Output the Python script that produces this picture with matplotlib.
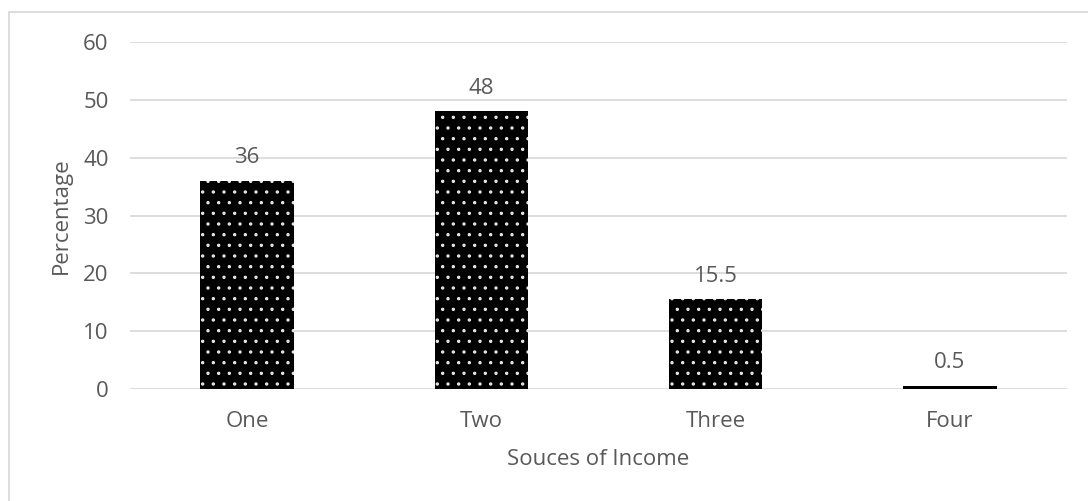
import numpy as np
import matplotlib
matplotlib.use('Agg')
import matplotlib.pyplot as plt
from matplotlib.patches import Rectangle

# Data for the chart
sources = ['One', 'Two', 'Three', 'Four']
percentages = [36, 48, 15.5, 0.5]
y_ticks = [0, 10, 20, 30, 40, 50, 60]

text_grey = '#595959'
line_grey = '#d9d9d9'
font_size = 12.5

plt.rcParams['font.family'] = ['Open Sans', 'DejaVu Sans']
plt.rcParams['hatch.linewidth'] = 0.7

# 1088 x 501 pixels, dpi picked so the dotted hatch comes out at the right spacing
fig = plt.figure(figsize=(8.5, 501 / 128), dpi=128)
ax = fig.add_axes([130 / 1088, 1 - 389 / 501, 937 / 1088, 347 / 501])

x = np.arange(len(sources))
bars = ax.bar(x, percentages, width=0.4, color='black', edgecolor='#e6e6e6',
              hatch='..', linewidth=0, zorder=3)

# value labels above each bar
for xi, val in zip(x, percentages):
    ax.annotate(f'{val:g}', (xi, val), xytext=(0, 10), textcoords='offset points',
                ha='center', va='baseline', fontsize=font_size, color=text_grey)

ax.set_xlim(-0.5, len(sources) - 0.5)
ax.set_ylim(0, 60)
ax.set_yticks(y_ticks)
ax.set_xticks(x)
ax.set_xticklabels(sources)
ax.tick_params(axis='both', length=0, labelsize=font_size, labelcolor=text_grey)
ax.tick_params(axis='y', pad=12)
ax.tick_params(axis='x', pad=12.5)

ax.grid(axis='y', color=line_grey, linewidth=1.0, zorder=0)
ax.set_axisbelow(True)
for spine in ax.spines.values():
    spine.set_visible(False)

ax.set_ylabel('Percentage', fontsize=font_size, color=text_grey)
ax.yaxis.set_label_coords((72 - 130) / 937, 0.5)
ax.set_xlabel('Souces of Income', fontsize=font_size, color=text_grey)
ax.xaxis.set_label_coords(0.5, (389 - 449) / 347)

# light frame round the whole chart
frame = Rectangle((9 / 1088, -0.05), 2, 1 - 12 / 501 + 0.05, transform=fig.transFigure,
                  fill=False, edgecolor=line_grey, linewidth=1.0)
fig.patches.append(frame)

fig.savefig('out.png', dpi=128)
